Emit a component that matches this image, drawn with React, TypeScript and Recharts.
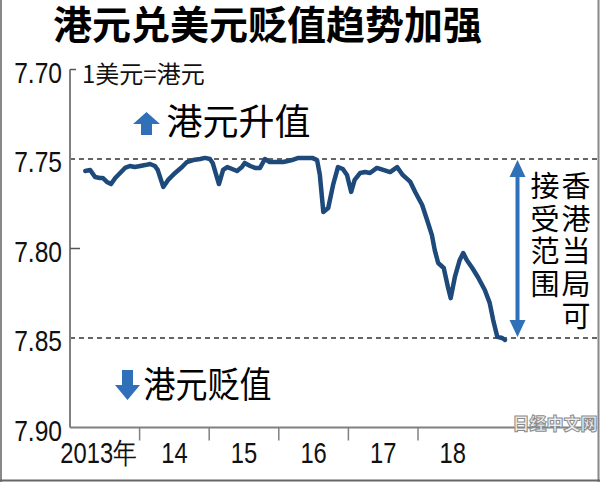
import React from 'react';
import { LineChart, Line, XAxis, YAxis, ReferenceLine } from 'recharts';

// x: position in years (2013.0 = start of 2013)
const xYears = [
  2013.22, 2013.29, 2013.36, 2013.43, 2013.47, 2013.53, 2013.59, 2013.65, 2013.72, 2013.79,
  2013.86, 2013.93, 2014.01, 2014.08, 2014.15, 2014.22, 2014.26, 2014.34, 2014.41, 2014.51,
  2014.61, 2014.68, 2014.77, 2014.87, 2014.94, 2015.01, 2015.05, 2015.11, 2015.14, 2015.2,
  2015.26, 2015.33, 2015.4, 2015.47, 2015.51, 2015.59, 2015.66, 2015.73, 2015.8, 2015.87,
  2015.97, 2016.06, 2016.13, 2016.19, 2016.28, 2016.38, 2016.48, 2016.55, 2016.59, 2016.64,
  2016.71, 2016.78, 2016.85, 2016.92, 2016.98, 2017.04, 2017.09, 2017.17, 2017.24, 2017.31,
  2017.41, 2017.5, 2017.6, 2017.7, 2017.78, 2017.89, 2017.96, 2018.06, 2018.14, 2018.2,
  2018.24, 2018.29, 2018.37, 2018.43, 2018.47, 2018.53, 2018.6, 2018.65, 2018.7, 2018.78,
  2018.86, 2018.96, 2019.03, 2019.08, 2019.14, 2019.21, 2019.25,
];
const hkdPerUsd = [
  7.7567, 7.7561, 7.7601, 7.7606, 7.7606, 7.7628, 7.764, 7.7606, 7.7578, 7.755,
  7.7539, 7.7545, 7.7539, 7.7534, 7.7528, 7.7539, 7.7561, 7.7656, 7.7617, 7.7578,
  7.7545, 7.7517, 7.7506, 7.75, 7.7494, 7.75, 7.7522, 7.7601, 7.764, 7.7561,
  7.7545, 7.7556, 7.7567, 7.7545, 7.7522, 7.7539, 7.755, 7.755, 7.75, 7.7517,
  7.7517, 7.7517, 7.7511, 7.7506, 7.7494, 7.7494, 7.7494, 7.7506, 7.7589, 7.7796,
  7.7774, 7.7645, 7.7545, 7.7556, 7.7589, 7.7684, 7.7617, 7.7578, 7.7573, 7.7578,
  7.755, 7.7561, 7.7573, 7.7545, 7.7589, 7.7628, 7.7684, 7.7757, 7.7852, 7.7925,
  7.8008, 7.8081, 7.8109, 7.8215, 7.8277, 7.8159, 7.8064, 7.8025, 7.8064, 7.8109,
  7.8159, 7.8232, 7.8304, 7.8399, 7.8494, 7.85, 7.8511,
];

const yTicks = [7.7, 7.75, 7.8, 7.85, 7.9];
const innerTickValues = [7.7, 7.8];
const bandLimits = [7.75, 7.85];
const yearTicks = [2013, 2014, 2015, 2016, 2017, 2018];
const yearLabels = ['2013年', '14', '15', '16', '17', '18'];
const xDomain = [2013, 2020.572];
const yDomain = [7.7, 7.9];
const rightColumn = ['香', '港', '当', '局', '可'];
const leftColumn = ['接', '受', '范', '围'];

const data = xYears.map((x, i) => ({ x, rate: hkdPerUsd[i] }));

const CHART_W = 600;
const CHART_H = 482;
const MARGIN = { top: 69.5, right: 3, bottom: 0, left: 0 };
const Y_AXIS_W = 70;
const X_AXIS_H = 54.5;
const PLOT_W = CHART_W - MARGIN.left - MARGIN.right - Y_AXIS_W;
const HALF_YEAR_PX = PLOT_W / (xDomain[1] - xDomain[0]) / 2;

const SANS = "'Liberation Sans', Arial, sans-serif";
const CJK = "'Noto Sans CJK SC', 'Noto Sans', sans-serif";
const AXIS_GRAY = '#808080';
const LINE_BLUE = '#1d4a7a';
const ARROW_BLUE = '#2f70b8';
const NARROW = 0.82;

const YTick = (props: any) => {
  const { x, y, payload } = props;
  const v = payload.value as number;
  const axisX = x + 8;
  const inner = innerTickValues.some((t) => Math.abs(t - v) < 1e-6);
  return (
    <g>
      {inner && (
        <line x1={axisX} x2={axisX + (v < 7.75 ? 6 : 10)} y1={y} y2={y} stroke="#555" strokeWidth={1.5} />
      )}
      <g transform={`translate(${x},${y + 2.5}) scale(${NARROW},1)`}>
        <text x={0} y={0} dy="0.36em" textAnchor="end" fontSize={30} fontFamily={SANS} fill="#111">
          {v.toFixed(2)}
        </text>
      </g>
    </g>
  );
};

const XTick = (props: any) => {
  const { x, y, payload, index } = props;
  const v = payload.value as number;
  const lx = x + HALF_YEAR_PX + (index === 0 ? -6 : 0);
  return (
    <g>
      {v > xDomain[0] && <line x1={x} x2={x} y1={y} y2={y + 13} stroke={AXIS_GRAY} strokeWidth={1.5} />}
      <g transform={`translate(${lx},${y + 25}) scale(${NARROW},1)`}>
        <text x={0} y={0} dy="0.36em" textAnchor="middle" fontSize={29} fontFamily={SANS} fill="#111">
          {yearLabels[index]}
        </text>
      </g>
    </g>
  );
};

export default function App() {
  return (
    <div style={{ position: 'absolute', left: 0, top: 0, width: CHART_W, height: CHART_H, background: '#fff' }}>
      <LineChart width={CHART_W} height={CHART_H} data={data} margin={MARGIN}>
        <XAxis
          dataKey="x"
          type="number"
          domain={xDomain}
          allowDataOverflow
          ticks={yearTicks}
          interval={0}
          height={X_AXIS_H}
          axisLine={{ stroke: AXIS_GRAY, strokeWidth: 2 }}
          tickLine={false}
          tickSize={0}
          tickMargin={0}
          tick={<XTick />}
        />
        <YAxis
          type="number"
          domain={yDomain}
          reversed
          allowDataOverflow
          ticks={yTicks}
          interval={0}
          width={Y_AXIS_W}
          axisLine={{ stroke: AXIS_GRAY, strokeWidth: 2 }}
          tickLine={false}
          tickSize={8}
          tickMargin={0}
          tick={<YTick />}
        />
        {bandLimits.map((v) => (
          <ReferenceLine key={v} y={v} stroke="#333" strokeWidth={1.3} strokeDasharray="5 4" />
        ))}
        <Line
          type="linear"
          dataKey="rate"
          stroke={LINE_BLUE}
          strokeWidth={4.5}
          strokeLinejoin="round"
          strokeLinecap="round"
          dot={false}
          isAnimationActive={false}
        />
      </LineChart>
      <svg
        width={CHART_W}
        height={CHART_H}
        style={{ position: 'absolute', left: 0, top: 0, pointerEvents: 'none' }}
      >
        <text x={267.5} y={39} textAnchor="middle" fontSize={39} fontWeight={700} fontFamily={CJK} fill="#000">
          港元兑美元贬值趋势加强
        </text>
        <text x={82} y={83} fontSize={24} fontFamily={CJK} fill="#111">
          1美元=港元
        </text>
        <polygon points="146.5,112 160,124 152,124 152,135 141,135 141,124 133,124" fill={ARROW_BLUE} />
        <text x={166.5} y={134.5} fontSize={36} fontFamily={CJK} fill="#000">
          港元升值
        </text>
        <polygon points="122,370 133,370 133,385 140,385 127.5,400 115,385 122,385" fill={ARROW_BLUE} />
        <text x={143.5} y={397.5} fontSize={36} fontFamily={CJK} fill="#000" textLength={128} lengthAdjust="spacingAndGlyphs">
          港元贬值
        </text>
        <line x1={517.5} x2={517.5} y1={172} y2={325} stroke={ARROW_BLUE} strokeWidth={4} />
        <polygon points="517.5,160 525.5,177 509.5,177" fill={ARROW_BLUE} />
        <polygon points="517.5,337 525.5,320 509.5,320" fill={ARROW_BLUE} />
        {rightColumn.map((c, i) => (
          <text key={`r${i}`} x={576} y={197 + i * 32.5} fontSize={29} fontFamily={CJK} fill="#000" textAnchor="middle">
            {c}
          </text>
        ))}
        {leftColumn.map((c, i) => (
          <text key={`l${i}`} x={545} y={197 + i * 32.5} fontSize={29} fontFamily={CJK} fill="#000" textAnchor="middle">
            {c}
          </text>
        ))}
        <text x={555} y={430} textAnchor="middle" fontSize={17} fontWeight={900} fontFamily={CJK} fill="#eeeeee" stroke="#8c8c8c" strokeWidth={1}>
          日经中文网
        </text>
        <line x1={1} x2={1} y1={0} y2={482} stroke="#888" strokeWidth={2} />
        <line x1={598.5} x2={598.5} y1={0} y2={482} stroke="#888" strokeWidth={2} />
        <line x1={0} x2={600} y1={480.5} y2={480.5} stroke="#666" strokeWidth={2} />
      </svg>
    </div>
  );
}
